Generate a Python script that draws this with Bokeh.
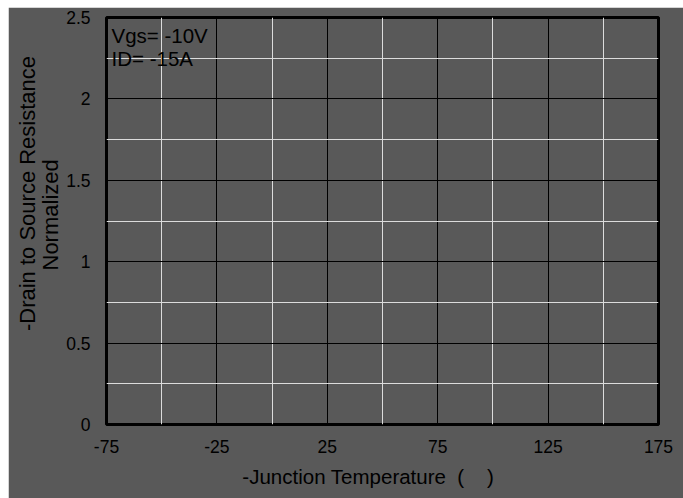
from bokeh.plotting import figure
from bokeh.models import FixedTicker, Label, Range1d, LinearAxis
from bokeh.embed import file_html
from bokeh.resources import INLINE

# ---- data / tick definitions ----
x_major_ticks = [-75, -25, 25, 75, 125, 175]
x_minor_ticks = [-50, 0, 50, 100, 150]
x_tick_labels = {-75: "-75", -25: "-25", 25: "25", 75: "75", 125: "125", 175: "175"}
y_major_ticks = [0, 0.5, 1, 1.5, 2, 2.5]
y_minor_ticks = [0.25, 0.75, 1.25, 1.75, 2.25]
y_tick_labels = {0: "0", 0.5: "0.5", 1: "1", 1.5: "1.5", 2: "2", 2.5: "2.5"}
conditions = ["Vgs= -10V", "ID= -15A"]
x_title = "-Junction Temperature"
y_title_lines = ["-Drain to Source Resistance", "Normalized"]

BG = "#595959"
FONT = "Liberation Sans"
NB = "\u00a0"

p = figure(width=675, height=491, output_backend="svg", toolbar_location=None,
           x_range=Range1d(-75, 175), y_range=Range1d(0, 2.5),
           min_border_left=98, min_border_right=25, min_border_top=10, min_border_bottom=74)
p.margin = (7, 0, 0, 8)
p.background_fill_color = BG
p.border_fill_color = BG
p.outline_line_color = "black"
p.outline_line_width = 3

xt = FixedTicker(ticks=x_major_ticks, minor_ticks=x_minor_ticks)
yt = FixedTicker(ticks=y_major_ticks, minor_ticks=y_minor_ticks)
p.xaxis.ticker = xt
p.yaxis.ticker = yt
p.xaxis.major_label_overrides = x_tick_labels
p.yaxis.major_label_overrides = y_tick_labels


def style_axis(ax):
    ax.axis_line_color = None
    ax.major_tick_line_color = None
    ax.minor_tick_line_color = None
    ax.major_tick_in = 0
    ax.major_tick_out = 0
    ax.minor_tick_in = 0
    ax.minor_tick_out = 0
    ax.major_label_text_font = FONT
    ax.major_label_text_font_size = "17.5px"
    ax.major_label_text_color = "black"
    ax.axis_label_text_font = FONT
    ax.axis_label_text_font_style = "normal"
    ax.axis_label_text_color = "black"


for ax in (p.xaxis[0], p.yaxis[0]):
    style_axis(ax)
p.xaxis.major_label_standoff = 15
p.yaxis.major_label_standoff = 16

# x title (trailing spaces shift the visible text slightly left, as in the reference)
p.xaxis.axis_label = x_title + NB * 2 + "(" + NB * 4 + ")" + NB * 5
p.xaxis.axis_label_text_font_size = "20.5px"
p.xaxis.axis_label_standoff = 9

# y title: inner line on main axis, outer line on an extra axis without ticks
p.yaxis.axis_label = NB * 2 + y_title_lines[1]
p.yaxis.axis_label_text_font_size = "22px"
p.yaxis.axis_label_standoff = 0

outer = LinearAxis(ticker=FixedTicker(ticks=[]), axis_label=NB * 9 + y_title_lines[0])
style_axis(outer)
outer.axis_label_text_font_size = "22px"
outer.axis_label_standoff = -4
outer.major_label_standoff = 0
p.add_layout(outer, "left")

for g in (p.xgrid, p.ygrid):
    g.grid_line_color = "black"
    g.grid_line_width = 1
    g.minor_grid_line_color = "#dcdcdc"
    g.minor_grid_line_width = 1
p.xgrid.ticker = xt
p.ygrid.ticker = yt

# condition annotation (top-left inside frame)
for i, t in enumerate(conditions):
    p.add_layout(Label(x=5, y=389 - 23 * i, x_units="screen", y_units="screen", text=t,
                       text_font=FONT, text_font_size="20.5px", text_color="black",
                       text_align="left", text_baseline="alphabetic"))

open("out.html", "w").write(file_html(p, INLINE))
